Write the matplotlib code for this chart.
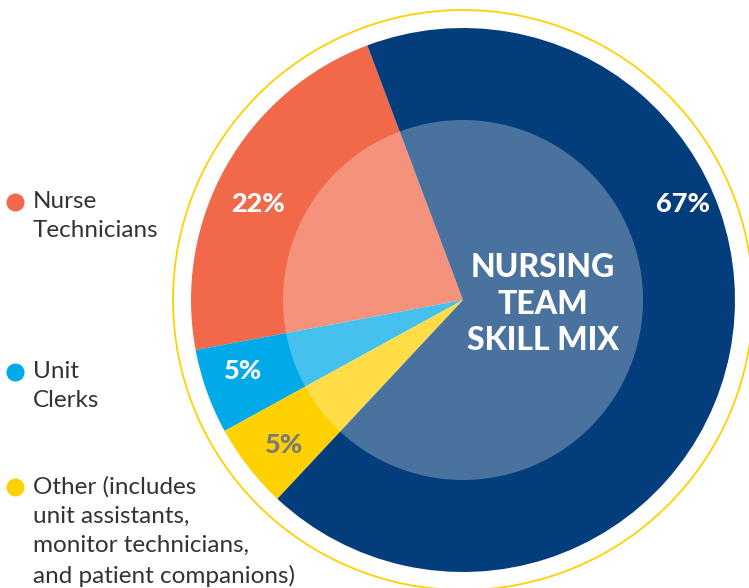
import numpy as np
import matplotlib
matplotlib.use("Agg")
import matplotlib.pyplot as plt
from matplotlib.patches import Circle

# Data
categories = ["Nurse\nTechnicians", "Unit\nClerks",
              "Other (includes\nunit assistants,\nmonitor technicians,\nand patient companions)",
              "Registered Nurses"]
values = [22, 5, 5, 67]
pct_labels = ["22%", "5%", "5%", "67%"]
colors = ["#F2694A", "#00A9E7", "#FFD100", "#033D7B"]
label_colors = ["white", "white", "#7A7A7A", "white"]
center_title = "NURSING\nTEAM\nSKILL MIX"

W, H = 749, 588
fig = plt.figure(figsize=(W / 100, H / 100), dpi=100)
ax = fig.add_axes([0, 0, 1, 1])

cx, cy, R = 463, 288, 272
wedges, _ = ax.pie(values, colors=colors, startangle=110.6, counterclock=True,
                   center=(cx, cy), radius=R, frame=True,
                   wedgeprops=dict(linewidth=0))
ax.set_xlim(0, W)
ax.set_ylim(0, H)
ax.set_aspect("equal")
ax.axis("off")

# inner translucent circle
ax.add_patch(Circle((cx, cy), 180, facecolor="white", alpha=0.28, lw=0, zorder=3))
# outer thin yellow ring
ax.add_patch(Circle((cx, cy), 290, facecolor="none", edgecolor="#FFD100", lw=1.3, zorder=3))

# percentage labels (angle, radius)
label_pos = [(155, 226), (198, 231), (219, 230), (23.6, 240)]
for (ang, r), txt, col in zip(label_pos, pct_labels, label_colors):
    a = np.deg2rad(ang)
    ax.text(cx + r * np.cos(a), cy + r * np.sin(a), txt, color=col,
            fontsize=19.5, fontweight="black", family="Lato",
            ha="center", va="center", zorder=5)

ax.text(543, 284, center_title, color="white", fontsize=23, fontweight="black",
        family="Lato", ha="center", va="center", linespacing=1.31, zorder=5)

# legend (manual)
leg_y = [588 - 202, 588 - 372, 588 - 487]
for y, lab, col in zip(leg_y, categories[:3], colors[:3]):
    ax.plot([15], [y], marker="o", markersize=13, color=col, mec="none", zorder=5)
    ax.text(33, y + 11, lab, fontsize=17.5, color="#333333", family="Lato",
            ha="left", va="top", linespacing=1.48, zorder=5)

fig.savefig("out.png", dpi=100)
